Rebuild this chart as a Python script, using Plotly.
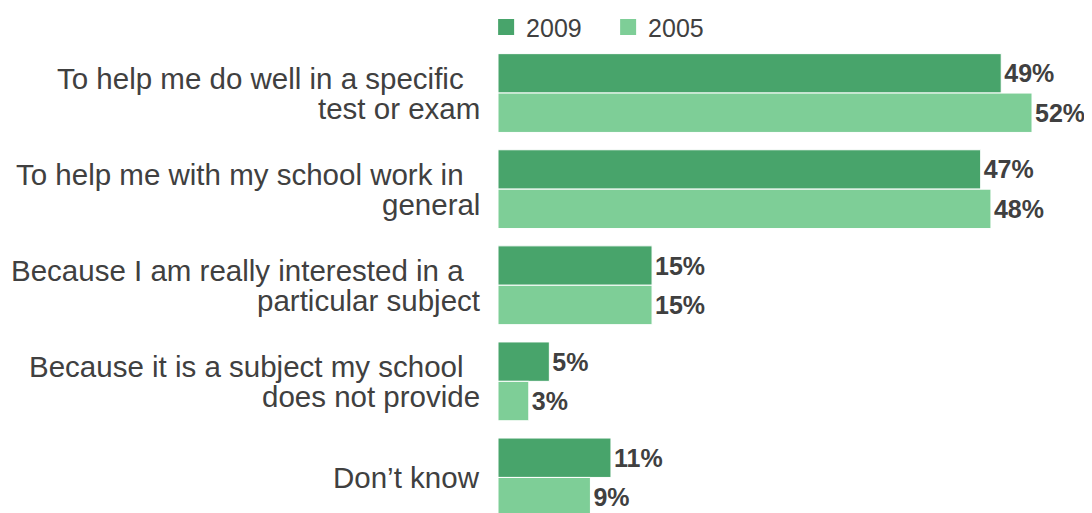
import plotly.graph_objects as go

categories = [
    "To help me do well in a specific test or exam",
    "To help me with my school work in general",
    "Because I am really interested in a particular subject",
    "Because it is a subject my school does not provide",
    "Don\u2019t know",
]
label_lines = [
    ["To help me do well in a specific", "test or exam"],
    ["To help me with my school work in", "general"],
    ["Because I am really interested in a", "particular subject"],
    ["Because it is a subject my school", "does not provide"],
    ["Don\u2019t know"],
]
values_2009 = [49, 47, 15, 5, 11]
values_2005 = [52, 48, 15, 3, 9]
series_names = ["2009", "2005"]
colors = ["#48A46B", "#7ECE97"]
text_color = "#404040"
FONT = "Liberation Sans, Arial, sans-serif"

fig = go.Figure()
for name, vals, col in zip(series_names, [values_2009, values_2005], colors):
    fig.add_trace(go.Bar(
        y=categories, x=vals, orientation="h", name=name,
        marker=dict(color=col, line=dict(color="white", width=1)),
        texttemplate="%{x}%", textposition="outside", cliponaxis=False,
        constraintext="none",
        textfont=dict(family=FONT, size=25, color=text_color, weight="bold"),
        showlegend=False, hoverinfo="skip",
    ))
    # legend entry with a larger square swatch
    fig.add_trace(go.Scatter(
        x=[None], y=[None], mode="markers", name=name,
        marker=dict(symbol="square", size=18, color=col),
        showlegend=True,
    ))

annotations = []
for cat, lines in zip(categories, label_lines):
    if len(lines) == 1:
        shifts = [0]
        texts = lines
    else:
        shifts = [15, -15]
        texts = [lines[0] + "\u00a0\u00a0", lines[1]]
    for t, s in zip(texts, shifts):
        annotations.append(dict(
            xref="paper", yref="y", x=0, y=cat, text=t, showarrow=False,
            xanchor="right", yanchor="middle", xshift=-16, yshift=s,
            font=dict(family=FONT, size=29.5, color=text_color),
        ))

fig.update_layout(
    width=1084, height=505,
    margin=dict(l=490, r=0, t=37, b=0, autoexpand=False),
    paper_bgcolor="white", plot_bgcolor="white",
    barmode="group", bargap=0.18, bargroupgap=0,
    font=dict(family=FONT, color=text_color),
    xaxis=dict(range=[0, 57.84], visible=False, fixedrange=True),
    yaxis=dict(range=[4.37, -0.5], showticklabels=False, showgrid=False,
               zeroline=False, showline=False, ticks=""),
    legend=dict(orientation="h", x=-0.02, xanchor="left", y=0.989, yanchor="bottom",
                font=dict(family=FONT, size=25, color=text_color),
                itemsizing="trace", entrywidth=77, bgcolor="rgba(0,0,0,0)"),
    annotations=annotations,
)

fig.write_html("out.html")
